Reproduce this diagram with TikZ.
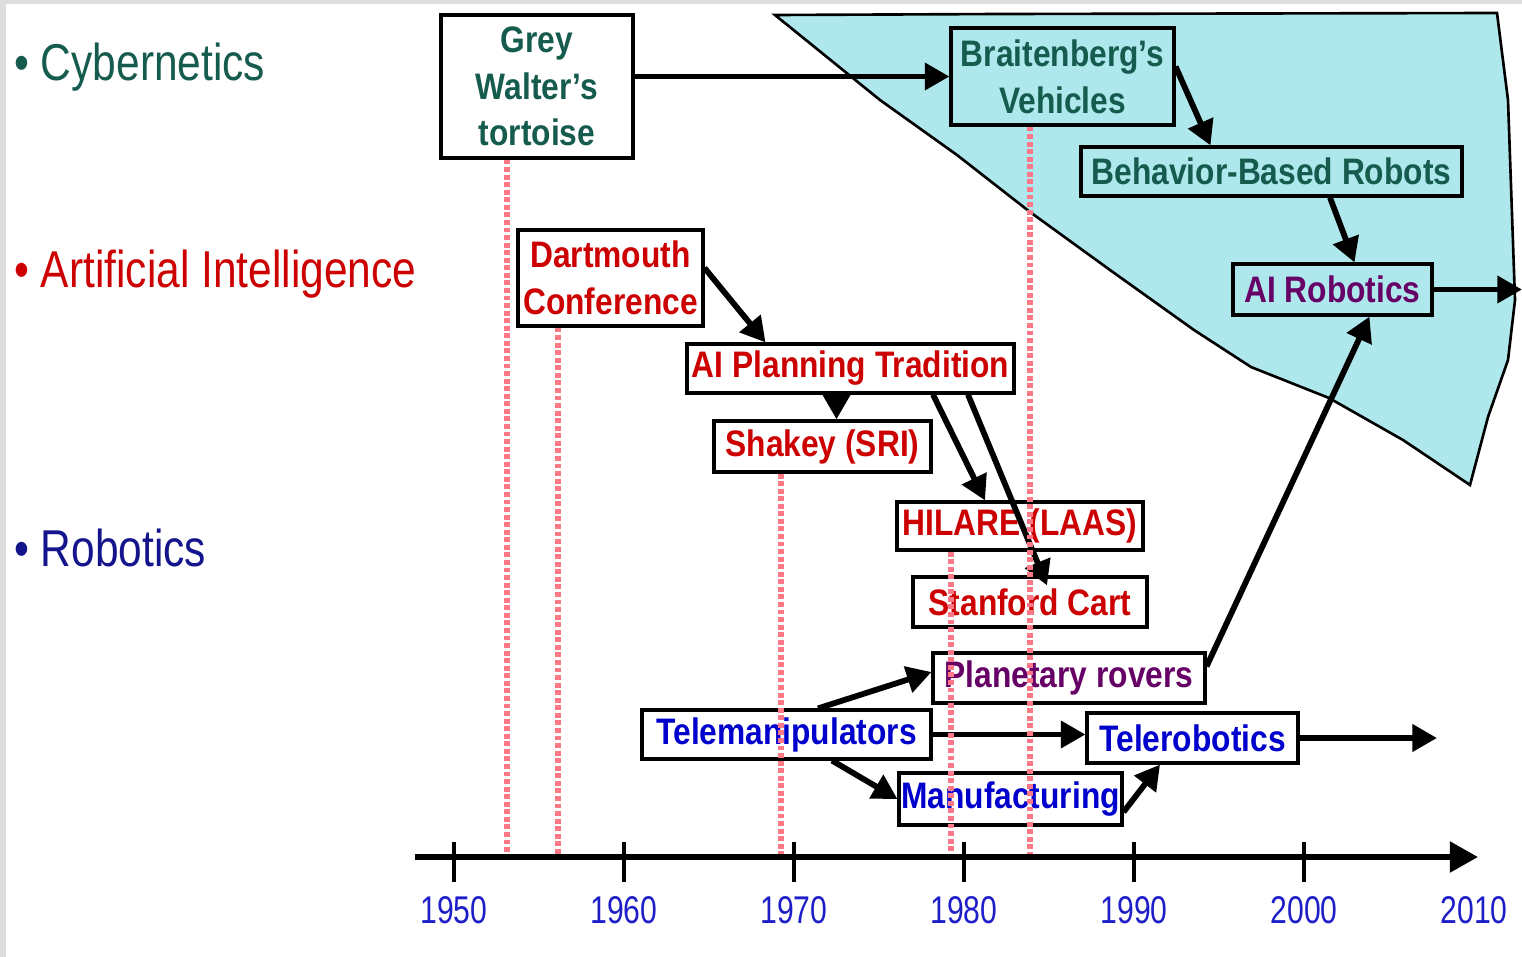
\documentclass[tikz,border=0pt]{standalone}
\usepackage{fontspec}
\setmainfont{Liberation Sans}
\newfontfamily\catfont[FakeStretch=0.82]{Liberation Sans}
\newfontfamily\boxfont[FakeStretch=0.86]{Liberation Sans}
\newfontfamily\yearfont[FakeStretch=0.78]{Liberation Sans}
\usetikzlibrary{arrows.meta}
\definecolor{cybgreen}{RGB}{22,92,78}
\definecolor{aired}{RGB}{204,0,0}
\definecolor{robnavy}{RGB}{20,20,140}
\definecolor{robblue}{RGB}{0,0,204}
\definecolor{yearblue}{RGB}{30,30,200}
\definecolor{mixpurple}{RGB}{102,0,102}
\definecolor{cyanfill}{RGB}{174,232,236}
\definecolor{dotpink}{RGB}{255,120,135}
\definecolor{edgegrey}{RGB}{222,220,220}

\begin{document}
\begin{tikzpicture}[x=0.02cm,y=-0.02cm,
  evt/.style={draw,line width=1.8pt,inner sep=0pt,align=center,
    font={\boxfont\bfseries\fontsize{21}{26.6}\selectfont}},
  flow/.style={line width=3.3pt,-{Triangle[length=14pt,width=15pt]}},
  drop/.style={draw=dotpink,line width=3.2pt,dash pattern=on 2.8pt off 1.5pt},
  cat/.style={anchor=base west,font={\catfont\fontsize{29.5}{32}\selectfont}},
  yr/.style={text=yearblue,font={\yearfont\fontsize{22}{24}\selectfont}}]
  \useasboundingbox (0,0) rectangle (1522,957);
  \fill[edgegrey] (0,0) rectangle (6,957);
  \fill[edgegrey] (0,0) rectangle (1522,4);

  % behaviour-based region
  \filldraw[fill=cyanfill,draw=black,line width=1.5pt]
    (775,15) -- (1000,14) -- (1497,13) -- (1508,100) -- (1515,300)
    -- (1508,360) -- (1488,417) -- (1470,485) -- (1403,440)
    -- (1329,398) -- (1251,367) -- (1194,330) -- (1110,270)
    -- (1030,212) -- (957,155) -- (880,100) -- cycle;

  % fields
  \node[cat,text=cybgreen] (cyb) at (8,80) {\textbullet\ Cybernetics};
  \node[cat,text=aired] (ai) at (8,287) {\textbullet\ Artificial Intelligence};
  \node[cat,text=robnavy] (rob) at (8,566) {\textbullet\ Robotics};

  % events
  \node[evt,text=cybgreen,minimum width=3.84cm,minimum height=2.86cm] (gwt) at (537,86.5) {Grey\\Walter’s\\tortoise};
  \node[evt,text=cybgreen,minimum width=4.46cm,minimum height=1.94cm] (brait) at (1062.5,76.5) {Braitenberg’s\\Vehicles};
  \node[evt,text=cybgreen,minimum width=7.62cm,minimum height=0.98cm] (bbr) at (1271.5,171.5) {Behavior-Based Robots};
  \node[evt,text=mixpurple,minimum width=3.98cm,minimum height=1.02cm] (airob) at (1332.5,289.5) {AI Robotics};
  \node[evt,text=aired,minimum width=3.70cm,minimum height=1.92cm] (dart) at (610.5,278) {Dartmouth\\Conference};
  \node[evt,text=aired,minimum width=6.54cm,minimum height=0.98cm] (aipt) at (850.5,368.5) {AI Planning Tradition};
  \node[evt,text=aired,minimum width=4.34cm,minimum height=1.02cm] (shakey) at (822.5,446.5) {Shakey (SRI)};
  \node[evt,text=aired,minimum width=4.92cm,minimum height=0.96cm] (hilare) at (1020,526) {HILARE (LAAS)};
  \node[evt,text=aired,minimum width=4.68cm,minimum height=1.00cm] (cart) at (1030,602) {Stanford Cart};
  \node[evt,text=mixpurple,minimum width=5.44cm,minimum height=1.00cm] (rovers) at (1069,678) {Planetary rovers};
  \node[evt,text=robblue,minimum width=5.78cm,minimum height=0.98cm] (telem) at (786.5,734.5) {Telemanipulators};
  \node[evt,text=robblue,minimum width=4.22cm,minimum height=1.00cm] (telerob) at (1192.5,738) {Telerobotics};
  \node[evt,text=robblue,minimum width=4.46cm,minimum height=1.04cm] (manuf) at (1010.5,799) {Manufacturing};

  \coordinate (outR) at (1522,289.5);
  \coordinate (outT) at (1437,738);

  % influences
  \draw[flow] (gwt.east |- brait.west) -- (brait.west);
  \draw[flow] ([yshift=0.2cm]brait.east) -- ([xshift=-1.22cm]bbr.north);
  \draw[flow] ([xshift=1.17cm]bbr.south) -- ([xshift=0.44cm]airob.north);
  \draw[flow] (airob.east) -- (outR);
  \draw[flow] ([yshift=0.2cm]dart.east) -- ([xshift=-1.7cm]aipt.north);
  \draw[flow] ([xshift=-0.28cm]aipt.south) -- ([xshift=0.28cm]shakey.north);
  \draw[flow] ([xshift=1.65cm]aipt.south) -- ([xshift=-0.7cm]hilare.north);
  \draw[flow] ([xshift=2.35cm]aipt.south) -- ([xshift=0.34cm,yshift=-0.2cm]cart.north);
  \draw[flow] ([xshift=0.63cm]telem.north) -- ([yshift=0.12cm]rovers.west);
  \draw[flow] (telem.east) -- (telem.east -| telerob.west);
  \draw[flow] ([xshift=0.91cm]telem.south) -- (manuf.west);
  \draw[flow] ([yshift=-0.26cm]manuf.east) -- ([xshift=-0.65cm]telerob.south);
  \draw[flow] (telerob.east) -- (outT);
  \draw[flow] ([yshift=-0.3cm]rovers.north east) -- ([xshift=0.74cm]airob.south);

  % time axis
  \coordinate (axL) at (415,857);
  \coordinate (axR) at (1478,857);
  \coordinate (t53) at (507,857);
  \coordinate (t56) at (558,857);
  \coordinate (t69) at (781,857);
  \coordinate (t79) at (951,857);
  \coordinate (t84) at (1030,857);
  \draw[drop] (t53 |- gwt.south) -- (t53);
  \draw[drop] (t56 |- dart.south) -- (t56);
  \draw[drop] (t69 |- shakey.south) -- (t69);
  \draw[drop] (t79 |- hilare.south) -- (t79);
  \draw[drop] (t84 |- brait.south) -- (t84);
  \draw[line width=3.3pt,-{Triangle[length=16pt,width=17pt]}] (axL) -- (axR);
  \foreach \i in {0,...,5}
    \draw[line width=1.8pt] ({454+170*\i},842) -- ({454+170*\i},882);
  \foreach \yr [count=\i from 0] in {1950,1960,...,2010}
    \node[yr] (y\yr) at ({454+170*\i},910) {\yr};
\end{tikzpicture}
\end{document}
